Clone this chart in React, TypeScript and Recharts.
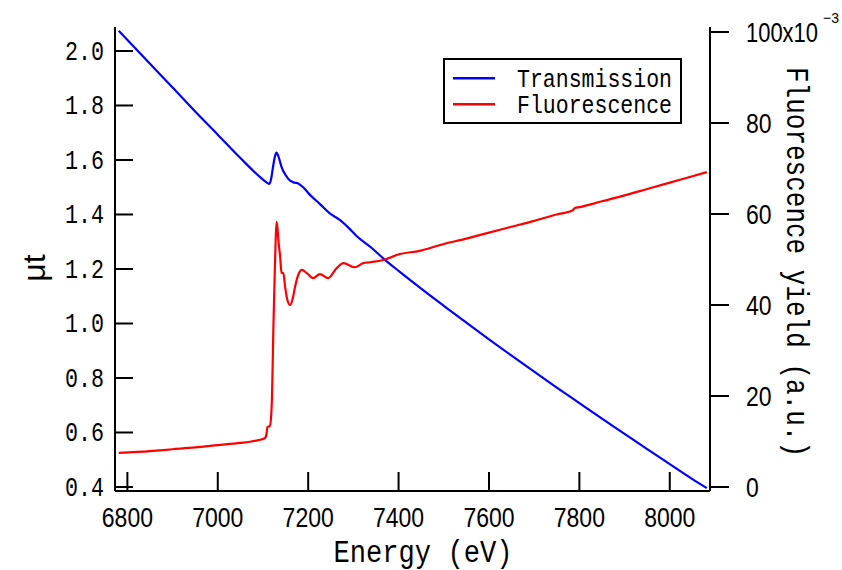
import React from 'react';
import { ComposedChart, Line, XAxis, YAxis } from 'recharts';

const energyTicks = [6800, 7000, 7200, 7400, 7600, 7800, 8000];
const muTicks = [0.4, 0.6, 0.8, 1.0, 1.2, 1.4, 1.6, 1.8, 2.0];
const fluorTicks = [0, 20, 40, 60, 80, 100];

const transEnergy = [6781, 6850, 6900, 6950, 7000, 7050, 7100, 7110, 7114, 7118, 7122, 7126, 7130, 7134, 7138, 7141, 7150, 7160, 7170, 7178, 7190, 7204, 7225, 7248, 7270, 7290, 7307, 7340, 7366, 7400, 7450, 7500, 7550, 7600, 7650, 7700, 7750, 7800, 7850, 7900, 7950, 8000, 8050, 8082];
const transMu = [2.074, 1.953, 1.866, 1.778, 1.693, 1.607, 1.528, 1.515, 1.512, 1.530, 1.572, 1.610, 1.627, 1.614, 1.592, 1.575, 1.545, 1.524, 1.517, 1.514, 1.498, 1.472, 1.440, 1.404, 1.380, 1.350, 1.321, 1.278, 1.239, 1.193, 1.128, 1.065, 1.003, 0.942, 0.882, 0.823, 0.765, 0.708, 0.651, 0.595, 0.539, 0.484, 0.429, 0.396];

const fluorEnergy = [6781, 6850, 6900, 6950, 7000, 7050, 7071, 7090, 7104, 7108, 7110, 7115, 7118, 7120, 7123, 7126, 7128, 7130, 7132, 7134, 7138, 7141, 7145, 7149, 7154, 7160, 7166, 7171, 7178, 7186, 7197, 7211, 7226, 7244, 7263, 7278, 7303, 7322, 7337, 7366, 7403, 7447, 7492, 7550, 7600, 7650, 7700, 7750, 7785, 7790, 7800, 7850, 7900, 7950, 8000, 8050, 8082];
const fluorYield = [7.5, 7.9, 8.3, 8.7, 9.2, 9.7, 9.95, 10.3, 10.7, 11.8, 13.2, 13.4, 15.5, 20, 35, 47, 54, 58.3, 57, 54.3, 50.6, 47.1, 47, 44, 41.1, 40, 41.5, 44, 46.6, 47.7, 47, 45.9, 46.8, 45.9, 48.1, 49.2, 48.3, 49.2, 49.4, 49.9, 51.2, 51.9, 53.2, 54.6, 55.9, 57.2, 58.5, 59.9, 60.8, 61.3, 61.5, 62.8, 64.1, 65.5, 66.9, 68.3, 69.2];

const seriesNames = ['Transmission', 'Fluorescence'];
const seriesColors = ['#0000ff', '#ff0000'];

const transData = transEnergy.map((e, i) => ({ energy: e, mu: transMu[i] }));
const fluorData = fluorEnergy.map((e, i) => ({ energy: e, fy: fluorYield[i] }));

const W = 842;
const H = 570;
const PL = 115;
const PR = 710;
const PT = 27;
const PB = 491;

const SANS = '"Liberation Sans", Arial, sans-serif';
const MONO = '"Liberation Mono", "DejaVu Sans Mono", monospace';

const fmtMu = (v: number) => v.toFixed(1);

const BottomTick = (props: any) => {
  const { x, payload } = props;
  const s = String(payload.value);
  return (
    <g>
      <line x1={x} x2={x} y1={PB} y2={PB - 19} stroke="#000" strokeWidth={2} />
      <text x={x} y={527} textAnchor="middle" fontFamily={SANS} fontSize={27} fill="#000" textLength={s.length * 12.8} lengthAdjust="spacingAndGlyphs">{s}</text>
    </g>
  );
};

const TopTick = (props: any) => {
  const { x } = props;
  return <line x1={x} x2={x} y1={PT} y2={PT + 19} stroke="#000" strokeWidth={2} />;
};

const LeftTick = (props: any) => {
  const { y, payload } = props;
  const s = fmtMu(payload.value);
  return (
    <g>
      <line x1={PL} x2={PL + 18} y1={y} y2={y} stroke="#000" strokeWidth={2} />
      <text x={104} y={y + 9} textAnchor="end" fontFamily={MONO} fontSize={27} fill="#000" textLength={39} lengthAdjust="spacingAndGlyphs">{s}</text>
    </g>
  );
};

const RightTick = (props: any) => {
  const { y, payload } = props;
  const v = payload.value;
  if (v === 100) {
    return (
      <g>
        <line x1={PR} x2={PR + 19} y1={y} y2={y} stroke="#000" strokeWidth={2} />
        <text x={746} y={y + 10} fontFamily={SANS} fontSize={27} fill="#000" textLength={72} lengthAdjust="spacingAndGlyphs">100x10</text>
        <text x={823} y={y - 9} fontFamily={SANS} fontSize={15} fill="#000" textLength={16} lengthAdjust="spacingAndGlyphs">{'\u22123'}</text>
      </g>
    );
  }
  const s = String(v);
  return (
    <g>
      <line x1={PR} x2={PR + 19} y1={y} y2={y} stroke="#000" strokeWidth={2} />
      <text x={746} y={y + 10} fontFamily={SANS} fontSize={27} fill="#000" textLength={s.length * 12.8} lengthAdjust="spacingAndGlyphs">{s}</text>
    </g>
  );
};

const XTitle = () => (
  <text x={423} y={562} textAnchor="middle" fontFamily={MONO} fontSize={31} fill="#000" textLength={179} lengthAdjust="spacingAndGlyphs">Energy (eV)</text>
);

const LeftTitle = () => (
  <text x={0} y={0} transform="translate(45,268) rotate(-90)" textAnchor="middle" fontFamily={SANS} fontSize={32} fill="#000">μt</text>
);

const RightTitle = () => (
  <text x={0} y={0} transform="translate(787,67) rotate(90)" textAnchor="start" fontFamily={MONO} fontSize={32} fill="#000" textLength={390} lengthAdjust="spacingAndGlyphs">Fluorescence yield (a.u.)</text>
);

const LegendBox = () => (
  <div style={{ position: 'absolute', left: 443, top: 58, width: 239, height: 66, boxSizing: 'border-box', border: '2px solid #000', background: '#fff' }}>
    <svg width={235} height={62} style={{ display: 'block', overflow: 'visible' }}>
      {seriesNames.map((n, i) => (
        <g key={n}>
          <line x1={8} x2={50} y1={[18.3, 44.3][i]} y2={[18.3, 44.3][i]} stroke={seriesColors[i]} strokeWidth={2.5} />
          <text x={72} y={[26.5, 52.5][i]} fontFamily={MONO} fontSize={25} fill="#000" textLength={155} lengthAdjust="spacingAndGlyphs">{n}</text>
        </g>
      ))}
    </svg>
  </div>
);

export default function App() {
  return (
    <div style={{ position: 'absolute', left: 0, top: 0, width: W, height: H, background: '#fff' }}>
      <ComposedChart width={W} height={H} margin={{ top: PT, right: W - PR - 100, bottom: H - PB - 60, left: PL - 100 }}>
        <XAxis xAxisId="bottom" dataKey="energy" type="number" domain={[6772.6, 8089]} ticks={energyTicks} interval={0} allowDataOverflow height={60} axisLine={{ stroke: '#000', strokeWidth: 2 }} tickLine={false} tickSize={0} tickMargin={0} tick={(p: any) => <BottomTick {...p} />} label={<XTitle />} />
        <XAxis xAxisId="top" orientation="top" dataKey="energy" type="number" domain={[6772.6, 8089]} ticks={energyTicks} interval={0} allowDataOverflow height={0} axisLine={{ stroke: '#000', strokeWidth: 2 }} tickLine={false} tickSize={0} tickMargin={0} tick={(p: any) => <TopTick {...p} />} />
        <YAxis yAxisId="left" type="number" domain={[0.3853, 2.088]} ticks={muTicks} interval={0} allowDataOverflow width={100} axisLine={{ stroke: '#000', strokeWidth: 2 }} tickLine={false} tickSize={0} tickMargin={0} tick={(p: any) => <LeftTick {...p} />} label={<LeftTitle />} />
        <YAxis yAxisId="right" orientation="right" type="number" domain={[-0.879, 101.1]} ticks={fluorTicks} interval={0} allowDataOverflow width={100} axisLine={{ stroke: '#000', strokeWidth: 2 }} tickLine={false} tickSize={0} tickMargin={0} tick={(p: any) => <RightTick {...p} />} label={<RightTitle />} />
        <Line xAxisId="bottom" yAxisId="left" data={transData} dataKey="mu" name={seriesNames[0]} stroke={seriesColors[0]} strokeWidth={2.2} dot={false} type="monotone" isAnimationActive={false} />
        <Line xAxisId="bottom" yAxisId="right" data={fluorData} dataKey="fy" name={seriesNames[1]} stroke={seriesColors[1]} strokeWidth={2.2} dot={false} type="monotone" isAnimationActive={false} />
      </ComposedChart>
      <LegendBox />
    </div>
  );
}
